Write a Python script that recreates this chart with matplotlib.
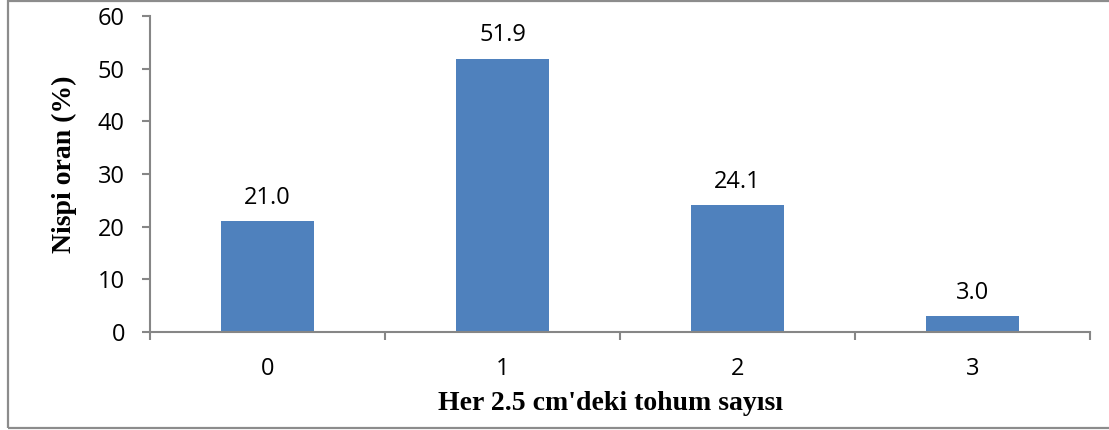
import matplotlib
matplotlib.use("Agg")
import matplotlib.pyplot as plt
from matplotlib.patches import Rectangle
import numpy as np

categories = ["0", "1", "2", "3"]
values = [21.0, 51.9, 24.1, 3.0]
y_ticks = [0, 10, 20, 30, 40, 50, 60]

x_title = "Her 2.5 cm'deki tohum sayısı"
y_title = "Nispi oran (%)"

bar_color = "#4F81BD"
axis_color = "#868686"
tick_font = "Open Sans"
title_font = "Liberation Serif"
tick_size = 17

W, H = 1109, 430
fig = plt.figure(figsize=(W / 100, H / 100), dpi=100)
ax = fig.add_axes([150 / W, 1 - 332 / H, (1090 - 150) / W, (332 - 16) / H])

x = np.arange(len(categories))
bars = ax.bar(x, values, width=0.396, color=bar_color, zorder=2)

for xi, v in zip(x, values):
    ax.annotate(f"{v:.1f}", (xi, v), xytext=(0, 12.5), textcoords="offset points",
                ha="center", va="baseline", fontsize=tick_size, family=tick_font, color="black")

ax.set_xlim(-0.5, len(categories) - 0.5)
ax.set_ylim(0, 60)
ax.set_yticks(y_ticks)
ax.set_yticklabels([str(t) for t in y_ticks], fontsize=tick_size, family=tick_font)

# Category labels at centres, boundary tick marks between categories
ax.set_xticks(x)
ax.set_xticklabels(categories, fontsize=tick_size, family=tick_font)
ax.tick_params(axis="x", which="major", length=0, pad=18)
ax.set_xticks(np.arange(-0.5, len(categories)), minor=True)
ax.tick_params(axis="x", which="minor", length=6, width=1.5, color=axis_color, direction="out")
ax.tick_params(axis="y", length=6, width=1.5, color=axis_color, direction="out", pad=12)

for side in ("top", "right"):
    ax.spines[side].set_visible(False)
for side in ("left", "bottom"):
    ax.spines[side].set_color(axis_color)
    ax.spines[side].set_linewidth(1.5)

fig.text(610 / W, 1 - 410 / H, x_title, ha="center", va="baseline",
         fontsize=20, fontweight="bold", family=title_font)
fig.text(64 / W, 1 - 164 / H, y_title, ha="center", va="center", rotation=90,
         fontsize=20, fontweight="bold", family=title_font)

# Chart frame
fig.patches.append(Rectangle((8 / W, 1 - 427.5 / H), 1.05, (427.5 - 0.5) / H,
                             transform=fig.transFigure, fill=False,
                             edgecolor="#8C8C8C", linewidth=1.6, zorder=0))

fig.savefig("out.png", dpi=100)
